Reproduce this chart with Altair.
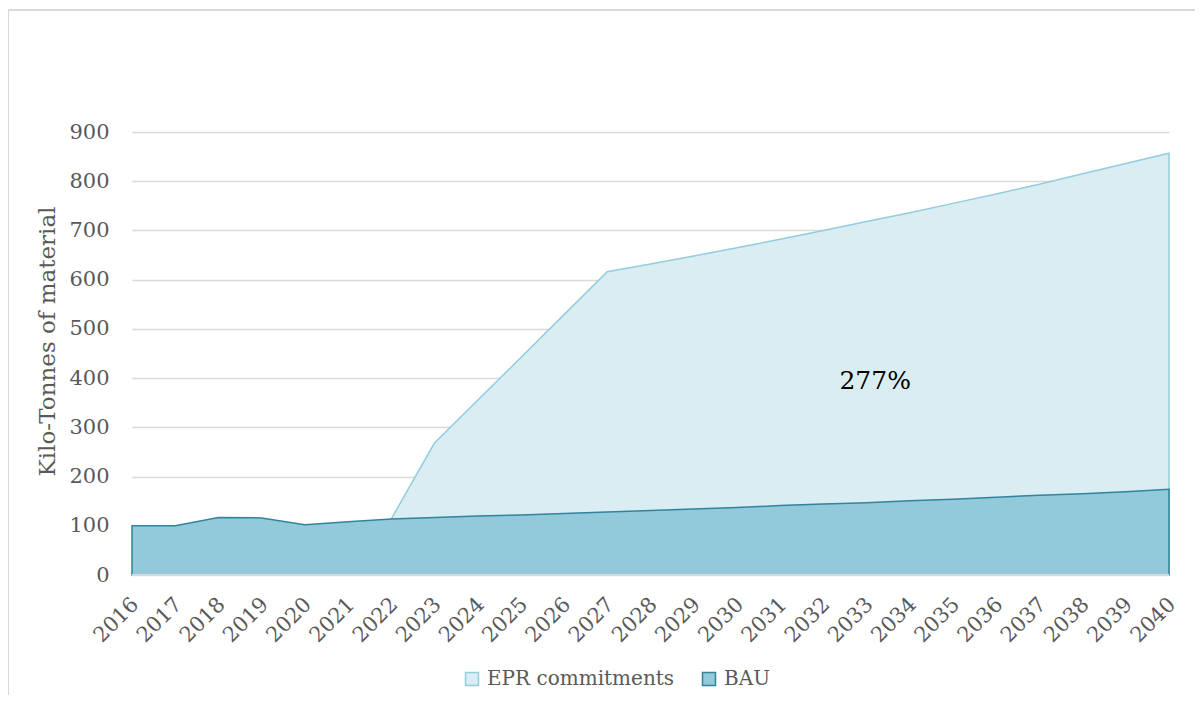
import altair as alt
import pandas as pd

# ---- data ----
years_bau = list(range(2016, 2041))
bau = [100, 100, 117, 116, 102, 108, 114, 117, 120, 122, 125, 128, 131, 134,
       137, 141, 144, 147, 151, 154, 158, 162, 165, 169, 174]

years_epr = list(range(2022, 2041))
epr = [114, 268, 355, 442, 529, 616, 632, 648, 665, 682, 700, 718, 736, 755,
       774, 794, 815, 836, 857]

series_names = ["EPR commitments", "BAU"]
fill_colors = ["#DAEDF3", "#92CADB"]
stroke_colors = ["#92CDDC", "#31849B"]

y_ticks = [0, 100, 200, 300, 400, 500, 600, 700, 800, 900]
x_ticks = years_bau

note_text = ["277%"]
note_x = [2033.2]
note_y = [394]

FONT = "DejaVu Serif"
GREY = "#595959"

df_bau = pd.DataFrame({"year": years_bau, "value": bau, "series": "BAU"})
df_epr = pd.DataFrame({"year": years_epr, "value": epr, "series": "EPR commitments"})
df_note = pd.DataFrame({"year": note_x, "value": note_y, "label": note_text})

W, H = 1037, 443

x_enc = alt.X(
    "year:Q",
    scale=alt.Scale(domain=[2016, 2040], nice=False, zero=False),
    axis=alt.Axis(
        values=x_ticks, format="d", title=None, labelAngle=-45,
        labelAlign="right", labelBaseline="middle", labelPadding=26, labelOffset=3,
        ticks=False, domain=False, grid=False,
        labelFont=FONT, labelFontSize=21, labelColor=GREY, labelOverlap=False,
    ),
)
y_enc = alt.Y(
    "value:Q",
    stack=None,
    scale=alt.Scale(domain=[0, 900], nice=False),
    axis=alt.Axis(
        values=y_ticks, title="Kilo-Tonnes of material", ticks=False, domain=False,
        grid=True, gridColor="#D9D9D9", gridWidth=1.5,
        labelFont=FONT, labelFontSize=21, labelColor=GREY, labelPadding=23,
        titleFont=FONT, titleFontSize=23, titleColor=GREY, titleFontWeight="normal",
        titleX=-85, titleY=209, titleBaseline="middle", titleAlign="center",
    ),
)

legend_cfg = dict(
    title=None, orient="none", direction="horizontal", legendX=330, legendY=537,
    symbolType="square", symbolSize=169, symbolStrokeWidth=1.5,
    labelFont=FONT, labelFontSize=20, labelColor=GREY, labelOffset=5,
    labelLimit=400, columnPadding=24,
)

fill_enc = alt.Fill(
    "series:N",
    scale=alt.Scale(domain=series_names, range=fill_colors),
    legend=alt.Legend(**legend_cfg),
)
stroke_enc = alt.Stroke(
    "series:N",
    scale=alt.Scale(domain=series_names, range=stroke_colors),
    legend=alt.Legend(**legend_cfg),
)

epr_area = alt.Chart(df_epr).mark_area(strokeWidth=1.5, opacity=1).encode(
    x=x_enc, y=y_enc, fill=fill_enc, stroke=stroke_enc
)
bau_area = alt.Chart(df_bau).mark_area(strokeWidth=1.5, opacity=1).encode(
    x=x_enc, y=y_enc, fill=fill_enc, stroke=stroke_enc
)
zero_line = alt.Chart(df_bau).mark_rule(color="#D9D9D9", strokeWidth=1.5).encode(
    y=alt.datum(0)
)
note = alt.Chart(df_note).mark_text(
    font=FONT, fontSize=25, color="#000000", align="center", baseline="middle"
).encode(x="year:Q", y="value:Q", text="label:N")

# outer chart frame (decoration)
frame_top = alt.Chart(df_note).mark_rule(color="#D9D9D9", strokeWidth=2).encode(
    x=alt.value(-124), x2=alt.value(W + 30), y=alt.value(-122)
)
frame_left = alt.Chart(df_note).mark_rule(color="#D9D9D9", strokeWidth=2).encode(
    x=alt.value(-124), y=alt.value(-122), y2=alt.value(H + 130)
)

chart = alt.layer(
    frame_top, frame_left, epr_area, bau_area, zero_line, note
).properties(
    width=W, height=H,
    background="white",
    autosize=alt.AutoSizeParams(type="none"),
    padding={"left": 124, "top": 124, "right": 26, "bottom": 120},
).configure_view(stroke=None)

chart.save("out.html", embed_options={"renderer": "svg", "actions": False})
